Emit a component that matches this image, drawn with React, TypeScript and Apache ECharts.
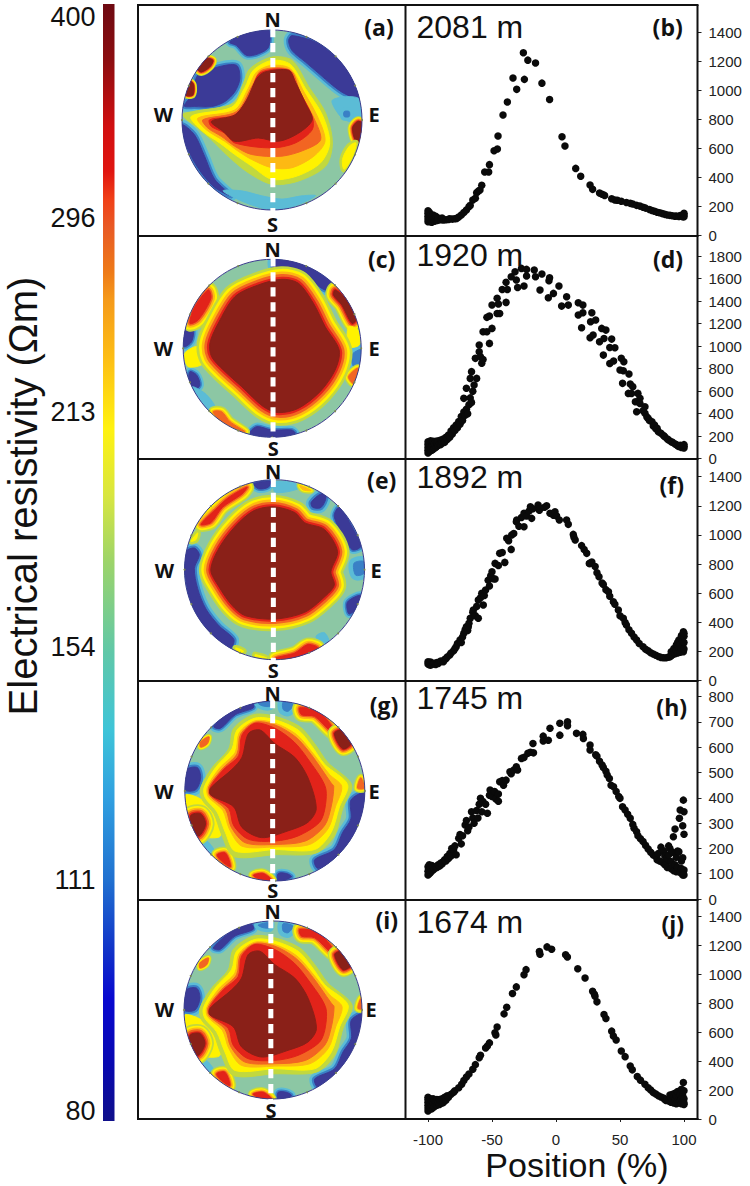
import React, { useEffect, useRef } from "react";
import * as echarts from "echarts";

// ---------- scatter profiles: [position %, resistivity] ----------
const profileB = [[-100,92],[-100,110],[-100,130],[-100,150],[-100,168],[-99,100],[-99,125],[-99,158],[-98,92],[-98,115],[-98,140],[-97,88],[-97,127],[-96,105],[-96,138],[-95,96],[-95,120],[-94,110],[-94,130],[-93,100],[-92,104],[-92,118],[-90,106],[-89,118],[-88,104],[-86,106],[-84,108],[-83,112],[-81,110],[-79,112],[-77.6,115],[-76,125],[-74,138],[-72,155],[-70,173],[-68,196],[-67,205],[-65,242],[-63,254],[-62,293],[-60.5,305],[-59.4,311],[-58,344],[-55.7,436],[-52.6,436],[-52,487],[-48.4,583],[-45.8,595],[-45.3,685],[-41.4,830],[-38,920],[-33.6,1086],[-30.7,1008],[-25.5,1261],[-24.7,1077],[-22,1210],[-16,1190],[-11,1051],[-5,938],[4.7,680],[7,616],[15.4,461],[19.3,406],[26.6,346],[28.6,316],[34,290],[36,282],[38,274],[43.5,251],[46,242],[48,240],[51,233],[55,225],[58,219],[60,215],[63,205],[65.6,200],[68,192],[70,186],[73,177],[75,170],[77,164],[79,158],[81,154],[83,148],[85,143],[87,139],[89,136],[91,133],[93,130],[94,131],[96,128],[97,135],[98,131],[99,126],[100,138],[100,127],[100,150]];
const profileD = [[-100,50],[-100,75],[-100,100],[-100,125],[-100,150],[-99,65],[-99,90],[-99,120],[-99,145],[-98,70],[-98,105],[-98,160],[-97,75],[-97,110],[-97,150],[-96,85],[-96,125],[-96,155],[-95,95],[-95,135],[-94,100],[-94,155],[-93,110],[-93,140],[-92,120],[-92,160],[-91,130],[-90,125],[-90,165],[-89,150],[-88,175],[-87,145],[-86,190],[-85,170],[-84,210],[-83,190],[-82,245],[-81,220],[-80,275],[-79,250],[-78,300],[-77,275],[-76,330],[-75,305],[-74,375],[-73,340],[-72,415],[-72,536],[-71,385],[-70,440],[-70,625],[-69,400],[-68,480],[-67,540],[-67,713],[-66,500],[-66,773],[-65,600],[-64,654],[-63,891],[-62,713],[-60,1009],[-60,950],[-59,906],[-58,847],[-57,1128],[-57,880],[-54,1128],[-54,1255],[-52,1267],[-52,1024],[-50,1157],[-50,1365],[-46,1290],[-46,1424],[-45,1374],[-44,1290],[-42,1503],[-39,1388],[-39,1566],[-38,1503],[-35,1616],[-32,1660],[-31,1587],[-30,1521],[-27,1690],[-25,1533],[-23,1681],[-23,1622],[-17,1675],[-16,1616],[-12.5,1498],[-11,1640],[-6,1430],[-5.5,1581],[-5,1607],[-2,1468],[2.3,1533],[4.4,1355],[8.3,1438],[9.6,1364],[17.4,1385],[17.4,1276],[20,1163],[21,1364],[21,1296],[26.6,1074],[27,1216],[28,1296],[29,1098],[31,1231],[34,1039],[35.7,1157],[37,920],[37.5,1068],[39,1142],[42,988],[42,846],[43.5,1062],[45,867],[46,985],[50,787],[51,891],[52,669],[52.6,781],[53,861],[56.5,580],[57,752],[58,663],[59,580],[60,640],[62,506],[63,417],[64,580],[65.6,536],[65.6,491],[68,425],[69.5,462],[69.5,403],[71,370],[72,358],[73,340],[75,328],[76,290],[77,300],[78,265],[79,270],[80,240],[82,225],[84,205],[85,195],[87,175],[88,165],[90,150],[91,145],[93,130],[94,125],[95,115],[96,108],[97,120],[98,100],[99,115],[100,95],[100,110],[100,125]];
const profileF = [[-100,115],[-100,130],[-99,110],[-99,125],[-98,107],[-98,128],[-97,112],[-96,118],[-95,120],[-94,112],[-93,125],[-92,118],[-91,128],[-90,135],[-88,130],[-87,145],[-86,150],[-85,162],[-83,176],[-82,190],[-80,205],[-79,220],[-78,233],[-77,255],[-75,280],[-74,262],[-73,300],[-72,325],[-71,350],[-70,370],[-69,345],[-68.5,370],[-68,395],[-67,428],[-65,470],[-64.6,485],[-63,445],[-62,510],[-60.7,428],[-60.7,554],[-59,570],[-58,600],[-56.8,519],[-56,585],[-55,622],[-53,690],[-52,650],[-51,720],[-50,748],[-49,700],[-47.6,698],[-47.6,805],[-45,790],[-44,874],[-42,880],[-40,812],[-38.5,977],[-37,960],[-35,901],[-34.6,1000],[-33,1010],[-31,1090],[-30.7,1103],[-29,1060],[-27,1120],[-25,1057],[-25,1149],[-23,1130],[-21,1165],[-20,1194],[-19,1114],[-18,1180],[-14,1206],[-13,1170],[-12.5,1183],[-9,1190],[-7.3,1201],[-4.7,1149],[-2,1135],[-0.8,1160],[0.5,1130],[2.6,1103],[8.3,1103],[9.6,1073],[13.5,1004],[14,985],[15,966],[20,927],[22,900],[24,874],[26,805],[26.6,805],[28,815],[30.6,783],[32,740],[33.6,714],[36,670],[37,661],[39,625],[41,611],[42,580],[44.8,542],[46,525],[48.7,485],[50,445],[52.6,428],[54,400],[55,382],[57,350],[59,325],[61,300],[63,279],[65,255],[68,233],[70,215],[72,205],[74,192],[76,183],[78,175],[80,166],[82,160],[84,158],[86,158],[88,162],[89,165],[90,172],[90,199],[91,178],[92,195],[92,220],[93,185],[94,245],[94,205],[95,262],[95,190],[96,225],[96,280],[97,195],[97,250],[98,290],[98,215],[98,310],[99,240],[99,270],[99.5,336],[99.5,199],[100,305],[100,262],[100,218],[100,325]];
const profileH = [[-100,95],[-100,110],[-100,128],[-99,100],[-99,118],[-99,135],[-98,105],[-98,125],[-97,112],[-97,132],[-96,115],[-96,128],[-95,120],[-94,128],[-93,125],[-92,135],[-91,130],[-90,142],[-89,138],[-88,148],[-87,155],[-86,150],[-85,168],[-84,160],[-83,180],[-82,170],[-81.5,200],[-80,195],[-79,210],[-78,175],[-76,240],[-75,255],[-74,218],[-73,250],[-71,293],[-70,310],[-69,270],[-68,285],[-66,345],[-65,320],[-64,300],[-62,350],[-61,320],[-60,375],[-59,398],[-58,345],[-57,385],[-55,375],[-53.6,339],[-52,410],[-51.5,431],[-50,405],[-48,425],[-47,395],[-45,387],[-45,415],[-44,464],[-42,468],[-41,450],[-39,470],[-36,503],[-35,495],[-33,510],[-31,523],[-30,510],[-27,556],[-25,560],[-22,576],[-20,580],[-18,615],[-17.6,578],[-10,644],[-10,625],[-6,628],[-4.7,675],[3,695],[3,648],[9,701],[9,685],[16,655],[21,651],[21.4,635],[26.6,609],[26.6,589],[31,570],[32,565],[34,545],[36,530],[37,520],[39,505],[40,490],[41.7,477],[43,450],[45,444],[47,425],[49,405],[50,398],[52,365],[54,352],[56,335],[58,319],[60,295],[61,280],[63,266],[64,250],[66,238],[68,227],[70,212],[72,198],[74,185],[76,174],[78,168],[79,155],[80,180],[81,150],[82,205],[83,145],[84,190],[85,135],[85,170],[86,134],[86.5,160],[87,125],[88,210],[88,175],[89,200],[90,120],[90,148],[91,185],[91.7,246],[92,112],[93,277],[93,135],[94,108],[94,165],[95,190],[95,125],[96,187],[96.4,319],[97,352],[97,105],[98,150],[98,120],[99,163],[99,290],[99,95],[99.5,391],[99.5,108],[100,345],[100,256],[100,115],[100,95]];
const profileJ = [[-100,55],[-100,75],[-100,95],[-100,115],[-100,135],[-100,150],[-99,65],[-99,85],[-99,105],[-99,130],[-98,80],[-98,110],[-98,140],[-97,70],[-97,95],[-97,125],[-96,90],[-96,115],[-96,140],[-95,85],[-95,130],[-94,105],[-94,125],[-93,95],[-93,135],[-92,115],[-91,100],[-91,135],[-90,120],[-89,110],[-89,140],[-88,114],[-87,150],[-86,130],[-85,160],[-84,150],[-82,170],[-80,185],[-79,194],[-76,215],[-73.7,240],[-72,265],[-70,290],[-68,310],[-65,343],[-63,375],[-60,423],[-59,440],[-55,490],[-53.6,503],[-52,525],[-47.7,595],[-47,580],[-46,634],[-40.6,725],[-38.5,771],[-34,865],[-31,911],[-25,995],[-23.4,1030],[-13,1155],[-12.5,1137],[-7,1187],[-3.4,1171],[7.5,1133],[8.9,1117],[17,1036],[22.7,972],[28.6,881],[30,860],[30.5,847],[32,808],[37.5,721],[39,693],[43.5,606],[44.8,572],[47,545],[51,469],[54,430],[58,366],[59.6,339],[63.5,293],[66,268],[69.5,240],[72,215],[74,200],[76,183],[78,172],[80,160],[82,152],[84,144],[85,135],[86,128],[87,135],[88,125],[89,120],[89,165],[90,115],[90,145],[91,130],[91,170],[92,110],[92,150],[93,135],[93,178],[94,105],[94,160],[95,125],[95,190],[96,145],[96,110],[97,170],[97,125],[98,205],[98,140],[98,105],[99,160],[99,120],[99.5,252],[100,195],[100,140],[100,110],[100,100]];

// ---------- tomogram contours: [ramp level, band px, outline] in the image's own plane ----------
type Layer = [number, number, number[][]];
const discA: Layer[] = [
  [-3, 5, [[470,105],[540,125],[600,170],[650,235],[668,295],[625,280],[590,255],[550,220],[510,185],[470,150],[460,120]]],
  [-3, 4, [[285,125],[340,95],[400,88],[400,140],[370,160],[335,165],[305,135]]],
  [-3, 5, [[150,318],[175,280],[190,225],[250,200],[305,195],[315,235],[300,275],[270,305],[230,320],[180,320]]],
  [-3, 5, [[143,375],[180,405],[210,470],[240,540],[290,590],[240,565],[190,505],[155,435]]],
  [-1, 0, [[590,300],[668,295],[678,360],[640,365],[610,345]]],
  [-2, 4, [[625,335],[640,335],[640,350],[625,350]]],
  [-1, 0, [[265,575],[330,610],[410,633],[480,620],[540,590],[500,590],[440,600],[380,590],[320,575]]],
  [6, 4, [[190,205],[215,175],[235,180],[225,200],[200,215]]],
  [6, 3, [[155,285],[170,245],[178,255],[175,285]]],
  [6, 5, [[650,385],[665,365],[678,370],[672,420],[660,425]]],
  [2, 3, [[620,480],[640,440],[660,430],[650,470],[625,510]]],
  [1, 0, [[145,345],[175,335],[295,310],[325,250],[345,205],[410,170],[470,180],[520,260],[570,340],[590,430],[570,500],[490,545],[410,555],[340,520],[280,470],[230,420],[190,385]]],
  [2, 0, [[170,350],[290,322],[330,262],[355,210],[410,180],[465,192],[510,265],[560,345],[582,430],[555,490],[485,530],[410,540],[350,500],[300,465],[255,430],[205,395]]],
  [3, 0, [[190,355],[300,330],[340,265],[365,215],[410,195],[465,205],[505,275],[548,355],[568,425],[535,470],[470,505],[410,505],[350,480],[310,455],[270,425],[215,390]]],
  [4, 0, [[205,360],[305,335],[350,260],[380,210],[465,210],[495,280],[535,355],[555,420],[510,450],[440,470],[350,465],[300,440],[260,410],[220,385]]],
  [5, 0, [[225,360],[300,345],[345,285],[375,218],[460,210],[485,260],[530,350],[530,390],[480,430],[410,445],[300,430],[270,400],[230,380]]],
  [6, 0, [[230,365],[300,345],[335,300],[365,235],[390,215],[460,210],[480,245],[510,310],[530,360],[490,400],[430,425],[370,415],[300,425],[265,395]]],
];
const discC: Layer[] = [
  [-3, 5, [[415,92],[480,97],[545,125],[595,165],[570,180],[520,145],[470,125],[420,122]]],
  [-3, 4, [[147,315],[155,290],[175,300],[170,335],[148,350]]],
  [-3, 4, [[165,425],[185,435],[195,465],[180,480],[163,450]]],
  [-1, 0, [[170,470],[210,490],[240,530],[220,540],[190,510]]],
  [-3, 4, [[345,610],[365,590],[410,600],[470,600],[480,610],[420,622]]],
  [-2, 5, [[650,375],[670,360],[678,360],[672,400],[655,410]]],
  [6, 8, [[600,180],[635,210],[662,270],[650,280],[620,225],[595,195]]],
  [5, 8, [[220,180],[228,205],[190,270],[165,280],[180,230]]],
  [4, 5, [[235,545],[260,545],[285,575],[330,605],[290,590],[250,565]]],
  [2, 0, [[150,370],[190,350],[205,400],[160,410]]],
  [2, 0, [[640,290],[668,300],[672,345],[640,350]]],
  [4, 4, [[640,440],[668,415],[655,460]]],
  [6, 13, [[225,340],[250,280],[300,200],[370,165],[440,148],[490,160],[535,220],[570,290],[612,360],[600,420],[555,485],[490,535],[430,548],[385,530],[320,470],[265,420],[230,380]]],
];
const discE: Layer[] = [
  [-3, 5, [[150,290],[175,280],[190,300],[175,340],[185,400],[210,460],[250,510],[295,550],[285,575],[240,545],[190,490],[160,425],[147,350]]],
  [-3, 4, [[615,160],[650,210],[680,275],[655,285],[625,240],[600,185]]],
  [-2, 5, [[660,325],[690,320],[690,355],[665,360]]],
  [-3, 4, [[640,440],[680,420],[670,455],[645,475]]],
  [-3, 4, [[355,90],[405,82],[400,100],[370,105]]],
  [-3, 5, [[530,145],[560,120],[575,130],[560,160],[535,160]]],
  [-1, 0, [[420,85],[480,88],[490,105],[420,115]]],
  [-1, 0, [[545,540],[570,530],[585,560],[555,560]]],
  [5, 7, [[195,210],[240,165],[280,130],[335,100],[320,120],[260,160],[225,205]]],
  [5, 7, [[420,605],[480,590],[520,565],[550,575],[480,605]]],
  [2, 3, [[300,575],[325,585],[310,590]]],
  [2, 3, [[360,595],[395,605],[360,600]]],
  [3, 3, [[495,95],[530,110],[505,108]]],
  [2, 3, [[165,260],[185,235],[180,255]]],
  [6, 12, [[225,345],[250,280],[300,215],[355,170],[415,158],[480,175],[510,205],[570,225],[610,290],[590,350],[600,390],[570,425],[510,470],[420,490],[330,480],[290,450],[250,395]]],
];
const discG: Layer[] = [
  [-3, 4, [[235,160],[285,115],[350,90],[355,105],[300,125],[255,165]]],
  [-2, 5, [[445,88],[475,95],[460,115],[445,110]]],
  [-2, 4, [[370,92],[405,85],[405,100],[385,100]]],
  [-3, 5, [[148,345],[155,285],[185,280],[195,310],[180,345]]],
  [-3, 5, [[650,375],[690,355],[685,430],[650,495],[600,550],[550,575],[540,550],[600,520],[625,470],[650,430]]],
  [-3, 4, [[430,612],[430,590],[455,590],[470,600]]],
  [-1, 0, [[190,490],[215,495],[240,530],[220,530]]],
  [5, 7, [[495,105],[550,115],[600,170],[590,175],[540,130],[500,125]]],
  [6, 7, [[600,180],[625,170],[650,210],[625,225]]],
  [2, 0, [[148,360],[200,375],[240,425],[255,480],[205,485],[175,480],[150,410]]],
  [6, 9, [[165,420],[195,415],[210,445],[190,480],[170,460]]],
  [5, 6, [[245,535],[270,530],[285,570],[260,555]]],
  [5, 5, [[355,595],[385,590],[410,610],[370,605]]],
  [4, 3, [[195,205],[220,190],[215,210],[195,220]]],
  [4, 4, [[680,310],[690,340],[670,340]]],
  [1, 0, [[195,340],[230,280],[280,225],[295,165],[355,125],[420,130],[495,160],[540,210],[580,265],[652,330],[625,400],[600,480],[545,530],[420,535],[295,540],[258,475],[235,415],[200,375]]],
  [2, 0, [[205,340],[240,280],[290,225],[305,170],[360,135],[420,140],[490,170],[530,215],[570,270],[640,330],[615,395],[590,470],[540,520],[420,520],[300,525],[270,470],[245,410],[210,370]]],
  [3, 0, [[215,338],[252,282],[300,235],[312,178],[360,143],[420,150],[485,183],[530,232],[585,300],[622,335],[603,395],[580,460],[525,505],[420,512],[320,510],[282,460],[262,405],[218,365]]],
  [4, 0, [[220,336],[260,284],[305,240],[316,182],[360,147],[420,155],[482,190],[530,242],[590,325],[598,335],[590,395],[570,450],[512,495],[420,505],[330,500],[288,455],[270,402],[222,362]]],
  [5, 0, [[225,335],[265,285],[310,245],[320,185],[360,150],[420,165],[478,205],[520,255],[572,335],[572,395],[555,440],[490,480],[420,495],[340,490],[295,450],[280,400],[225,360]]],
  [6, 0, [[225,340],[290,285],[320,250],[340,180],[375,170],[420,210],[480,250],[520,310],[545,400],[520,440],[460,465],[380,485],[320,455],[295,395],[225,360]]],
];
const discI: Layer[] = discG;

const discLayers = [discA, discC, discE, discG, discI];
const depths = ["2081 m", "1920 m", "1892 m", "1745 m", "1674 m"];
const discLetters = ["(a)", "(c)", "(e)", "(g)", "(i)"];
const plotLetters = ["(b)", "(d)", "(f)", "(h)", "(j)"];
const profiles = [profileB, profileD, profileF, profileH, profileJ];
const yMaxima = [1400, 1800, 1400, 800, 1400];
const yIntervals = [200, 200, 200, 100, 200];
const scaleLabels = ["400", "296", "213", "154", "111", "80"];
const xTicks = [-100, 100];

// ---------- layout ----------
const RAMP: Record<number, string> = { [-3]: "#3b3a97", [-2]: "#3a80c6", [-1]: "#5bbcd6", 0: "#8cc7a4", 1: "#c2d83e", 2: "#fff200", 3: "#fdb913", 4: "#f26522", 5: "#e2231a", 6: "#8a2018" };
const discBoxes = [
  { cx: 272, cy: 120, r: 90, xr: [143, 678], yr: [88, 633], dash: 413 },
  { cx: 272.2, cy: 348.3, r: 89, xr: [145, 678], yr: [88, 622], dash: 414 },
  { cx: 274.5, cy: 569.7, r: 90, xr: [145, 692], yr: [78, 610], dash: 415 },
  { cx: 274.8, cy: 791, r: 90, xr: [147, 692], yr: [85, 612], dash: 413 },
  { cx: 273, cy: 1010, r: 89, xr: [147, 682], yr: [80, 610], dash: 408 },
];
const plotBoxes = [[32.7, 235], [256, 458.7], [476.7, 680.7], [696.7, 899], [916, 1119]];
const compass = [
  { N: [272.7, 19], S: [272.5, 224], W: [163.3, 114], E: [374, 114], L: [379, 27], P: [667.7, 26.7], D: 26.7 },
  { N: [272.7, 249.3], S: [273.3, 448], W: [163.3, 348], E: [374, 348], L: [381.7, 259], P: [668, 259], D: 255 },
  { N: [273, 471.7], S: [273.3, 670], W: [164.3, 570], E: [376, 570], L: [381.7, 480], P: [671.7, 485], D: 476.7 },
  { N: [272.7, 693.3], S: [272.7, 890], W: [164, 791.7], E: [374, 791.7], L: [384, 705], P: [671.7, 706.7], D: 698 },
  { N: [272.7, 911], S: [271, 1110], W: [164.3, 1009], E: [371, 1009], L: [386.7, 920], P: [672.7, 924], D: 921.7 },
];
const scaleY = [17, 218, 412, 647, 880, 1111];
const frameY = [5, 236, 459, 681, 900, 1119];
const RIM_DOTS = 16;
const BAR_STOPS: [number, string][] = [[0,"#6e0a12"],[0.05,"#8c0d10"],[0.11,"#d10f10"],[0.15,"#e01510"],[0.175,"#f04018"],[0.2,"#e85a25"],[0.24,"#ee7a18"],[0.265,"#f59a1a"],[0.32,"#fdc015"],[0.38,"#fff210"],[0.44,"#d8e640"],[0.5,"#9cd46a"],[0.58,"#60c8a8"],[0.65,"#3ec4d8"],[0.71,"#30a0e0"],[0.785,"#2070d0"],[0.85,"#1030c8"],[0.89,"#0808d0"],[0.95,"#0808b0"],[1,"#10108a"]];
const SMOOTH = 0.3;

function layerShapes(layer: Layer, toPx: (p: number[]) => number[]) {
  const [level, band, outline] = layer;
  const points = outline.map(toPx);
  const out: any[] = [];
  if (band > 0 && level !== 0) {
    const dir = level > 0 ? 1 : -1;
    const n = Math.abs(level) - 1;
    for (let i = 1; i <= n; i++) {
      out.push({
        type: "polygon",
        shape: { points, smooth: SMOOTH },
        style: { fill: "none", stroke: RAMP[dir * i], lineWidth: (2 * band * (n - i + 1)) / n, lineJoin: "round" },
      });
    }
  }
  out.push({ type: "polygon", shape: { points, smooth: SMOOTH }, style: { fill: RAMP[level], stroke: RAMP[level], lineWidth: 1, lineJoin: "round" } });
  return out;
}

function buildOption() {
  const grid: any[] = [];
  const xAxis: any[] = [];
  const yAxis: any[] = [];
  const series: any[] = [];
  const graphic: any[] = [];
  const text = (t: string, x: number, y: number, font: string, size: number, weight: string, align = "center", color = "#111", rotation = 0) =>
    graphic.push({ type: "text", x, y, rotation, z: 60, silent: true, style: { text: t, fontFamily: font, fontSize: size, fontWeight: weight, fill: color, align, verticalAlign: "middle" } });

  discBoxes.forEach((b, i) => {
    const idx = grid.length;
    grid.push({ left: b.cx - b.r, top: b.cy - b.r, width: 2 * b.r, height: 2 * b.r, show: false });
    xAxis.push({ gridIndex: idx, type: "value", min: b.xr[0], max: b.xr[1], show: false });
    yAxis.push({ gridIndex: idx, type: "value", min: b.yr[0], max: b.yr[1], inverse: true, show: false });
    series.push({
      type: "custom",
      coordinateSystem: "cartesian2d",
      xAxisIndex: idx,
      yAxisIndex: idx,
      silent: true,
      clip: false,
      data: [[(b.xr[0] + b.xr[1]) / 2, (b.yr[0] + b.yr[1]) / 2]],
      renderItem: (_: any, api: any) => {
        const toPx = (p: number[]) => api.coord(p);
        const [cx, cy] = toPx([api.value(0), api.value(1)]);
        const dots: any[] = [];
        for (let k = 0; k < RIM_DOTS; k++) {
          const a = (k * 2 * Math.PI) / RIM_DOTS;
          dots.push({ type: "circle", shape: { cx: cx + b.r * Math.cos(a), cy: cy + b.r * Math.sin(a), r: 1 }, style: { fill: "#7d8a55" } });
        }
        const top = toPx([b.dash, b.yr[0]]);
        const bottom = toPx([b.dash, b.yr[1]]);
        return {
          type: "group",
          children: [
            {
              type: "group",
              clipPath: { type: "circle", shape: { cx, cy, r: b.r } },
              children: [
                { type: "circle", shape: { cx, cy, r: b.r }, style: { fill: RAMP[0] } },
                ...discLayers[i].flatMap((l) => layerShapes(l, toPx)),
              ],
            },
            { type: "circle", shape: { cx, cy, r: b.r }, style: { fill: "none", stroke: "#3c3c8e", lineWidth: 1 } },
            ...dots,
            { type: "line", shape: { x1: top[0], y1: top[1] - 2, x2: bottom[0], y2: bottom[1] + 2 }, style: { stroke: "#fff", lineWidth: 5, lineDash: [9.3, 5.7] } },
          ],
        };
      },
    });
    const c = compass[i];
    (["N", "S", "W", "E"] as const).forEach((k) => text(k, c[k][0], c[k][1], "Open Sans", 20, "bold"));
    text(discLetters[i], c.L[0], c.L[1], "Open Sans", 23, "bold");
  });

  plotBoxes.forEach((p, i) => {
    const idx = grid.length;
    const last = i === plotBoxes.length - 1;
    grid.push({ left: 428, width: 256, top: p[0], height: p[1] - p[0], show: false });
    xAxis.push({
      gridIndex: idx,
      type: "value",
      min: xTicks[0],
      max: xTicks[1],
      interval: 50,
      show: last,
      axisLine: { show: false, onZero: false },
      splitLine: { show: false },
      axisTick: { show: true, length: 3, inside: false, lineStyle: { color: "#222" } },
      axisLabel: { margin: 13, fontFamily: "Liberation Sans", fontSize: 15, color: "#222", formatter: (v: number) => String(v) },
    });
    yAxis.push({
      gridIndex: idx,
      type: "value",
      position: "right",
      offset: 13.5,
      min: 0,
      max: yMaxima[i],
      interval: yIntervals[i],
      axisLine: { show: false, onZero: false },
      splitLine: { show: false },
      axisTick: { show: true, length: 4, inside: false, lineStyle: { color: "#222" } },
      axisLabel: { margin: 11, fontFamily: "Liberation Sans", fontSize: 15, color: "#222", formatter: (v: number) => String(v) },
    });
    series.push({
      type: "scatter",
      xAxisIndex: idx,
      yAxisIndex: idx,
      data: profiles[i],
      symbol: "circle",
      symbolSize: 7.5,
      clip: false,
      silent: true,
      itemStyle: { color: "#0a0a0a", opacity: 1 },
    });
    const c = compass[i];
    text(depths[i], 416.5, c.D, "Liberation Sans", 32, "normal", "left");
    text(plotLetters[i], c.P[0], c.P[1], "Open Sans", 23, "bold");
  });

  frameY.forEach((y) => graphic.push({ type: "line", z: 50, silent: true, shape: { x1: 137, y1: y, x2: 698.5, y2: y }, style: { stroke: "#111", lineWidth: 2 } }));
  [138, 405.5, 697.5].forEach((x) => graphic.push({ type: "line", z: 50, silent: true, shape: { x1: x, y1: frameY[0], x2: x, y2: frameY[5] }, style: { stroke: "#111", lineWidth: 2 } }));

  graphic.push({
    type: "rect",
    z: 10,
    silent: true,
    shape: { x: 103, y: 4, width: 11.5, height: 1117 },
    style: { fill: new echarts.graphic.LinearGradient(0, 0, 0, 1, BAR_STOPS.map(([offset, color]) => ({ offset, color }))) },
  });
  scaleLabels.forEach((t, i) => text(t, 95.5, scaleY[i], "Liberation Sans", 27, "normal", "right"));
  text("Electrical resistivity (\u03a9m)", 23, 496, "Liberation Sans", 40, "normal", "center", "#111", Math.PI / 2);
  text("Position (%)", 577, 1165, "Liberation Sans", 34, "normal");

  return { animation: false, backgroundColor: "#fff", grid, xAxis, yAxis, series, graphic };
}

export default function App() {
  const ref = useRef<HTMLDivElement>(null);
  useEffect(() => {
    const chart = echarts.init(ref.current!, undefined, { renderer: "svg" });
    chart.setOption(buildOption() as any);
    return () => chart.dispose();
  }, []);
  return <div ref={ref} style={{ position: "absolute", left: 0, top: 0, width: 750, height: 1186 }} />;
}
